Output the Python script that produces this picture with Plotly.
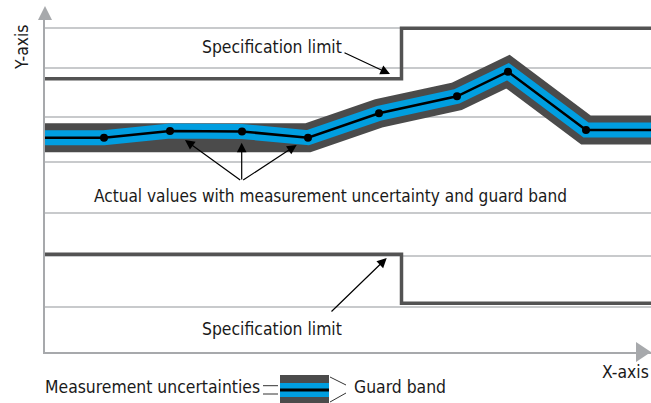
import plotly.graph_objects as go

# ---- data (chart units: x from y-axis, y from x-axis) ----
x_points = [0, 59, 125, 197, 263, 334, 412, 463, 541, 606]
actual_values = [214.3, 214.3, 221, 220.5, 214.3, 238.7, 255.7, 280.3, 222, 222]
marker_idx = [1, 2, 3, 4, 5, 6, 7, 8]

spec_x = [0, 356.5, 606]
upper_limit = [273.3, 323.7, 323.7]
lower_limit = [97.7, 48.7, 48.7]

grid_y = [45, 96, 139, 190, 235.5, 284, 324]

X_RANGE = [0, 606]
Y_RANGE = [0, 332]

GRAY = "#4b4b4b"
BLUE = "#009ee0"
SPEC = "#535353"
AXIS = "#a7a9ac"
GRID = "#c8cacc"
FONT = "DejaVu Sans Condensed, Liberation Sans Narrow, sans-serif"
TXT = "#1a1a1a"


def fx(x):
    return (x - X_RANGE[0]) / (X_RANGE[1] - X_RANGE[0])


def fy(y):
    return (y - Y_RANGE[0]) / (Y_RANGE[1] - Y_RANGE[0])


fig = go.Figure()

# spec limits
for lim in (upper_limit, lower_limit):
    fig.add_trace(go.Scatter(x=spec_x, y=lim, mode="lines", line_shape="hv",
                             line=dict(color=SPEC, width=3.5), hoverinfo="skip"))

# band: guard band, measurement uncertainty, actual values
fig.add_trace(go.Scatter(x=x_points, y=actual_values, mode="lines",
                         line=dict(color=GRAY, width=29), hoverinfo="skip"))
fig.add_trace(go.Scatter(x=x_points, y=actual_values, mode="lines",
                         line=dict(color=BLUE, width=15), hoverinfo="skip"))
fig.add_trace(go.Scatter(x=x_points, y=actual_values, mode="lines",
                         line=dict(color="black", width=2.5), hoverinfo="skip"))
fig.add_trace(go.Scatter(x=[x_points[i] for i in marker_idx],
                         y=[actual_values[i] for i in marker_idx], mode="markers",
                         marker=dict(color="black", size=8), hoverinfo="skip"))

# axis arrow heads
fig.add_shape(type="path", xref="paper", yref="paper",
              path=f"M {fx(-7)} {fy(332)} L {fx(7)} {fy(332)} L {fx(0)} {fy(346)} Z",
              fillcolor=AXIS, line=dict(width=0))
fig.add_shape(type="path", xref="paper", yref="paper",
              path=f"M {fx(591)} {fy(10)} L {fx(591)} {fy(-10)} L {fx(606)} {fy(0)} Z",
              fillcolor=AXIS, line=dict(width=0))

# legend swatch
fig.add_shape(type="rect", xref="paper", yref="paper",
              x0=fx(235), x1=fx(284), y0=fy(-56), y1=fy(-23),
              fillcolor=GRAY, line=dict(width=0))
fig.add_shape(type="rect", xref="paper", yref="paper",
              x0=fx(235), x1=fx(284), y0=fy(-45), y1=fy(-31),
              fillcolor=BLUE, line=dict(width=0))
fig.add_shape(type="line", xref="paper", yref="paper",
              x0=fx(235), x1=fx(284), y0=fy(-38), y1=fy(-38),
              line=dict(color="black", width=3))
for yy in (-33.7, -42):
    fig.add_shape(type="line", xref="paper", yref="paper",
                  x0=fx(218), x1=fx(233), y0=fy(yy), y1=fy(yy),
                  line=dict(color="#333333", width=1))
for (ya, yb) in ((-25, -33), (-50, -41)):
    fig.add_shape(type="line", xref="paper", yref="paper",
                  x0=fx(285), x1=fx(301), y0=fy(ya), y1=fy(yb),
                  line=dict(color="#333333", width=1))

font = dict(family=FONT, size=17.4, color=TXT)
ann = []
ann.append(dict(x=155, y=305, xref="x", yref="y", text="Specification limit",
                showarrow=False, xanchor="left", yanchor="middle", font=font))
ann.append(dict(x=155, y=23, xref="x", yref="y", text="Specification limit",
                showarrow=False, xanchor="left", yanchor="middle", font=font))
ann.append(dict(x=47, y=156, xref="x", yref="y",
                text="Actual values with measurement uncertainty and guard band",
                showarrow=False, xanchor="left", yanchor="middle",
                font=dict(family=FONT, size=17.1, color=TXT)))
ann.append(dict(x=fx(-23), y=fy(304), xref="paper", yref="paper", text="Y-axis",
                showarrow=False, textangle=-90, xanchor="center", yanchor="middle", font=font))
ann.append(dict(x=fx(606), y=fy(-20), xref="paper", yref="paper", text="X-axis",
                showarrow=False, xanchor="right", yanchor="middle", font=font))
ann.append(dict(x=fx(-2), y=fy(-35), xref="paper", yref="paper",
                text="Measurement uncertainties",
                showarrow=False, xanchor="left", yanchor="middle", font=font))
ann.append(dict(x=fx(307), y=fy(-35), xref="paper", yref="paper", text="Guard band",
                showarrow=False, xanchor="left", yanchor="middle", font=font))

arrow = dict(showarrow=True, arrowhead=2, arrowsize=1.6, arrowwidth=1.2,
             arrowcolor="black", text="", xref="x", yref="y", axref="x", ayref="y")
for (tx, ty, hx, hy) in [(298, 300, 345, 278), (285, 39, 341.7, 94),
                         (196.7, 171, 140, 212), (196.7, 171, 196.7, 209.3),
                         (196.7, 171, 251.7, 207)]:
    ann.append(dict(x=hx, y=hy, ax=tx, ay=ty, **arrow))

fig.update_layout(
    width=651, height=403,
    margin=dict(l=45, r=0, t=20, b=51),
    paper_bgcolor="white", plot_bgcolor="white",
    showlegend=False,
    annotations=ann,
    xaxis=dict(range=X_RANGE, showgrid=False, zeroline=False, showticklabels=False,
               showline=True, linecolor=AXIS, linewidth=2, ticks=""),
    yaxis=dict(range=Y_RANGE, tickvals=grid_y, showgrid=True, gridcolor=GRID,
               gridwidth=1.5, zeroline=False, showticklabels=False,
               showline=True, linecolor=AXIS, linewidth=2, ticks=""),
)

fig.write_html("out.html", config={"displayModeBar": False},
               post_script="document.body.style.margin='0';document.body.style.overflow='hidden';")
